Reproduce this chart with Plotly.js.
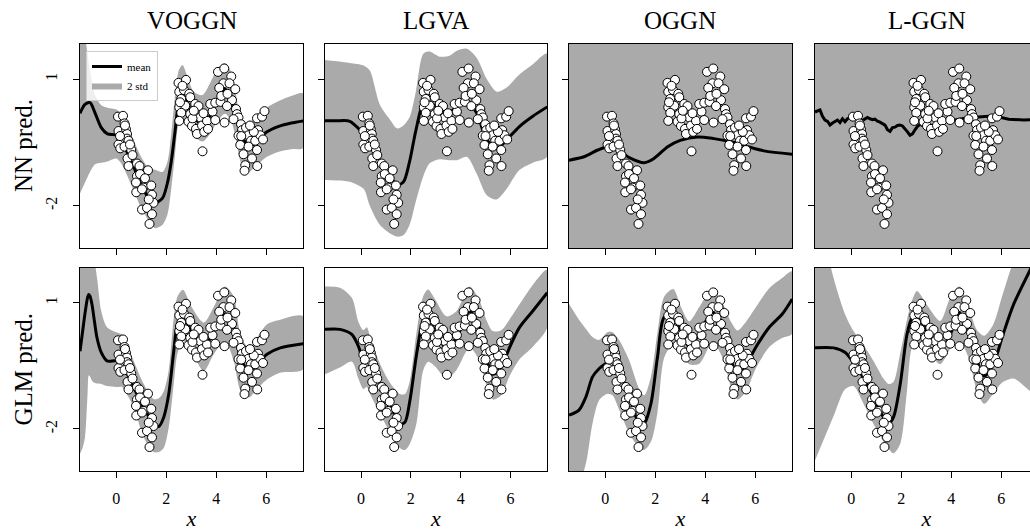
<!DOCTYPE html>
<html>
<head>
<meta charset="utf-8">
<script src="https://cdn.plot.ly/plotly-3.0.1.min.js"></script>
<style>
html,body{margin:0;padding:0;overflow:hidden;background:#fff;}
#chart{width:1045px;height:531px;}
</style>
</head>
<body>
<div id="chart"></div>
<script>
// ---------------- data ----------------
const columnTitles = ["VOGGN", "LGVA", "OGGN", "L-GGN"];
const rowTitles = ["NN pred.", "GLM pred."];
const xTickVals = [0, 2, 4, 6];
const yTickVals = [1, -2];
const yTickText = ["1", "-2"];

const dataX = [0.07,0.27,0.33,0.09,0.39,0.43,0.20,0.43,0.49,0.09,0.16,0.33,0.60,0.45,0.65,0.49,0.83,0.93,1.27,0.83,0.79,1.09,1.40,0.80,1.03,1.43,1.49,1.03,1.23,1.43,1.33,0.15,0.55,0.95,0.35,1.15,1.30,
  2.49,2.79,2.52,2.71,2.92,2.60,2.96,2.52,2.76,2.60,2.52,2.96,3.16,3.29,2.89,3.03,3.19,3.36,3.43,3.23,3.52,3.63,3.67,3.85,3.96,3.76,3.96,4.17,4.07,4.32,4.60,4.29,4.12,4.53,4.76,4.63,4.43,4.33,4.79,4.83,4.89,4.69,4.99,5.03,4.89,5.19,5.29,5.39,4.96,5.09,5.29,5.56,5.63,5.83,5.93,5.67,5.76,5.87,5.63,5.43,5.64,5.16,5.13,3.45,
  2.65,2.55,3.05,3.49,3.10,4.20,4.45,5.00,5.50,5.35];
const dataY = [0.11,0.13,-0.05,-0.23,-0.19,-0.30,-0.45,-0.41,-0.46,-0.55,-0.64,-0.60,-0.68,-0.88,-0.80,-1.06,-1.00,-1.06,-1.16,-1.30,-1.45,-1.57,-1.52,-1.68,-1.61,-1.74,-1.93,-2.09,-2.05,-2.20,-2.43,-0.35,-0.55,-1.25,-0.10,-1.35,-1.85,
  0.91,0.98,0.70,0.74,0.65,0.53,0.57,0.33,0.37,0.20,0.01,0.17,0.41,0.36,-0.01,-0.11,-0.18,0.09,-0.10,-0.30,-0.25,0.01,-0.18,0.23,0.03,0.41,0.44,0.46,1.17,1.25,1.06,0.90,0.79,0.90,0.76,0.50,0.36,-0.03,0.29,0.17,0.09,0.05,-0.07,-0.21,-0.34,-0.15,-0.33,-0.46,-0.56,-0.78,-0.60,-0.46,0.07,0.11,0.24,-0.21,-0.33,-0.43,-0.68,-0.88,-1.06,-1.04,-1.17,-0.71,
  0.84,0.45,0.07,0.19,0.25,0.60,0.65,-0.35,-0.25,-0.10];

// VOGGN, NN predictive
const voggnNnX     = [-1.45,-1.25,-1.05,-0.85,-0.6,-0.35,0,0.2,0.45,0.7,1.0,1.3,1.55,1.85,2.05,2.2,2.35,2.5,2.65,2.85,3.1,3.45,3.75,4.05,4.35,4.6,4.8,5.0,5.3,5.6,6.0,6.5,7.0,7.48];
const voggnNnMean  = [0.19,0.40,0.44,0.20,-0.15,-0.30,-0.32,-0.42,-0.75,-1.08,-1.5,-1.82,-1.93,-1.82,-1.45,-0.95,-0.25,0.45,0.66,0.45,0.10,-0.07,0.13,0.50,0.76,0.55,0.15,-0.30,-0.60,-0.50,-0.26,-0.12,-0.04,0.01];
const voggnNnUpper = [2.6,2.0,1.2,0.62,0.38,0.32,0.28,0.18,-0.1,-0.45,-0.85,-1.1,-1.15,-1.2,-0.95,-0.3,0.6,1.2,1.33,1.05,0.7,0.62,0.9,1.25,1.38,1.15,0.6,0.0,-0.05,0.12,0.32,0.48,0.6,0.66];
const voggnNnLower = [-1.71,-1.45,-1.2,-1.02,-0.98,-0.95,-0.88,-1.0,-1.3,-1.65,-2.05,-2.35,-2.53,-2.45,-2.2,-1.6,-0.8,-0.05,0.05,-0.1,-0.35,-0.48,-0.3,0.0,0.18,0.0,-0.45,-1.0,-1.2,-1.05,-0.85,-0.72,-0.66,-0.63];

// LGVA, NN predictive
const lgvaNnX     = [-1.45,-1.0,-0.45,0.1,0.35,0.75,1.15,1.45,1.7,1.95,2.2,2.5,2.75,3.15,3.55,3.85,4.25,4.65,5.05,5.45,5.85,6.35,6.9,7.48];
const lgvaNnMean  = [0.01,0.01,0.0,-0.29,-0.42,-0.92,-1.31,-1.5,-1.44,-0.95,-0.22,0.42,0.46,0.27,0.22,0.34,0.50,0.19,-0.44,-0.64,-0.44,-0.13,0.12,0.34];
const lgvaNnUpper = [1.45,1.42,1.38,1.32,1.2,0.4,0.05,-0.17,-0.1,0.1,0.7,1.6,1.65,1.53,1.55,1.67,1.72,1.5,1.0,0.7,0.8,1.1,1.35,1.6];
const lgvaNnLower = [-1.39,-1.40,-1.43,-1.6,-2.0,-2.45,-2.65,-2.73,-2.7,-2.45,-1.9,-1.3,-1.0,-0.9,-0.92,-0.92,-0.84,-1.25,-1.75,-1.85,-1.6,-1.16,-0.98,-0.84];

// OGGN, NN predictive (band covers the whole panel)
const oggnNnX     = [-1.45,-0.85,-0.3,0.1,0.5,1.0,1.55,1.95,2.5,3.0,3.7,4.35,5.0,5.7,6.35,7.48];
const oggnNnMean  = [-0.92,-0.84,-0.68,-0.60,-0.68,-0.87,-0.98,-0.88,-0.60,-0.45,-0.37,-0.41,-0.48,-0.60,-0.70,-0.78];
const oggnNnUpper = [4.0,4.0,4.0,4.0,4.0,4.0,4.0,4.0,4.0,4.0,4.0,4.0,4.0,4.0,4.0,4.0];
const oggnNnLower = [-6.0,-6.0,-6.0,-6.0,-6.0,-6.0,-6.0,-6.0,-6.0,-6.0,-6.0,-6.0,-6.0,-6.0,-6.0,-6.0];

// L-GGN, NN predictive (noisy mean, band covers the whole panel)
const lggnNnX    = [-1.45,-1.35,-1.25,-1.15,-1.05,-0.95,-0.85,-0.75,-0.65,-0.55,-0.45,-0.35,-0.25,-0.15,-0.05,0.05,0.15,0.25,0.32,0.38,0.45,0.55,0.65,0.75,0.85,0.95,1.05,1.15,1.25,1.35,1.45,1.55,1.65,1.75,1.85,1.95,2.05,2.15,2.25,2.35,2.45,2.55,2.65,2.75,2.85,2.95,3.05,3.15,3.3,3.45,3.6,3.75,3.9,4.05,4.2,4.4,4.6,4.8,5.0,5.25,5.5,5.75,6.0,6.3,6.6,6.9,7.2,7.47];
const lggnNnMean = [0.22,0.25,0.27,0.12,0.03,0.0,-0.09,-0.04,-0.01,0.03,-0.03,0.06,-0.01,0.06,0.09,0.08,0.11,0.05,-0.35,-0.3,0.02,0.05,0.09,0.06,0.04,0.05,0.0,-0.02,-0.06,-0.09,-0.20,-0.24,-0.15,-0.14,-0.10,-0.09,-0.11,-0.17,-0.25,-0.33,-0.30,-0.20,-0.12,-0.07,-0.10,-0.09,-0.12,-0.15,-0.08,-0.03,0.02,0.04,0.0,0.02,0.04,0.06,0.08,0.09,0.10,0.12,0.12,0.10,0.09,0.05,0.04,0.03,0.04,0.04];
const lggnNnBandX = [-1.45,7.48];
const lggnNnUpper = [3.4,3.4];
const lggnNnLower = [-4.2,-4.2];

// VOGGN, GLM predictive
const voggnGlmX     = [-1.45,-1.35,-1.25,-1.15,-1.1,-1.05,-0.97,-0.87,-0.77,-0.6,-0.37,0.0,0.23,0.45,0.7,1.1,1.5,1.7,1.9,2.1,2.3,2.45,2.67,3.0,3.5,3.9,4.35,4.7,4.97,5.3,5.63,6.03,6.56,7.48];
const voggnGlmMean  = [-0.15,0.3,0.75,1.12,1.2,1.16,0.96,0.55,0.17,-0.18,-0.38,-0.38,-0.46,-0.70,-1.01,-1.49,-1.88,-1.94,-1.72,-1.17,-0.15,0.49,0.68,0.33,-0.07,0.33,0.74,0.41,-0.30,-0.62,-0.46,-0.22,-0.07,0.03];
const voggnGlmUpper = [3.0,3.0,2.5,2.2,2.1,2.0,1.9,1.9,1.6,0.8,0.42,0.30,0.25,0.0,-0.38,-0.93,-1.29,-1.27,-1.1,-0.6,0.64,1.15,1.31,0.92,0.53,0.9,1.39,1.15,0.25,-0.07,0.17,0.49,0.6,0.68];
const voggnGlmLower = [-2.59,-2.45,-2.2,-1.2,-0.72,-0.75,-0.85,-0.9,-0.92,-0.93,-0.98,-1.0,-1.0,-1.2,-1.49,-2.2,-2.55,-2.55,-2.45,-1.96,-0.93,-0.2,0.09,-0.15,-0.62,-0.22,0.09,-0.38,-1.09,-1.25,-1.05,-0.82,-0.66,-0.58];

// LGVA, GLM predictive
const lgvaGlmX     = [-1.45,-0.85,-0.37,-0.11,0.09,0.23,0.36,0.76,1.16,1.56,1.76,1.96,2.23,2.49,2.69,2.96,3.43,3.83,4.36,4.76,5.03,5.29,5.63,5.96,6.36,6.89,7.48];
const lgvaGlmMean  = [0.37,0.37,0.25,-0.03,-0.34,-0.22,-0.38,-0.93,-1.41,-1.88,-1.84,-1.33,-0.22,0.57,0.68,0.33,-0.07,0.17,0.80,0.41,-0.30,-0.70,-0.54,-0.07,0.41,0.80,1.24];
const lgvaGlmUpper = [1.39,1.36,1.12,0.55,0.35,0.42,0.2,-0.45,-0.9,-1.17,-1.17,-0.85,0.3,1.15,1.32,1.1,0.68,0.8,1.39,1.05,0.6,0.33,0.35,0.6,0.96,1.42,1.79];
const lgvaGlmLower = [-0.70,-0.54,-0.40,-0.8,-1.05,-1.0,-1.17,-1.64,-2.08,-2.45,-2.5,-2.35,-1.85,-0.62,-0.4,-0.5,-0.8,-0.6,-0.07,-0.38,-0.95,-1.3,-1.2,-0.75,-0.35,-0.05,0.41];

// OGGN, GLM predictive
const oggnGlmX     = [-1.45,-1.05,-0.77,-0.51,-0.24,0.09,0.29,0.56,0.96,1.36,1.56,1.83,2.09,2.36,2.72,3.03,3.36,3.76,4.29,4.69,5.03,5.29,5.63,6.03,6.56,7.09,7.48];
const oggnGlmMean  = [-1.67,-1.55,-1.23,-0.76,-0.56,-0.41,-0.29,-0.60,-1.23,-1.87,-1.87,-1.39,-0.29,0.66,0.70,0.34,-0.05,0.27,0.78,0.34,-0.37,-0.68,-0.48,-0.05,0.42,0.74,1.09];
const oggnGlmUpper = [0.98,0.6,0.38,0.19,0.12,0.3,0.3,0.11,-0.37,-1.05,-1.2,-0.75,0.3,1.15,1.33,0.9,0.56,0.9,1.33,1.0,0.55,0.34,0.55,0.9,1.35,1.6,1.75];
const oggnGlmLower = [-3.5,-3.3,-2.81,-1.87,-1.31,-1.16,-1.2,-1.55,-2.1,-2.45,-2.5,-2.3,-1.6,-0.3,0.03,-0.2,-0.46,-0.45,0.05,-0.3,-1.0,-1.3,-1.1,-0.55,-0.05,0.17,0.27];

// L-GGN, GLM predictive
const lggnGlmX     = [-1.45,-0.71,-0.24,0.09,0.49,0.89,1.29,1.49,1.69,1.96,2.23,2.43,2.63,3.03,3.56,3.96,4.33,4.69,5.03,5.32,5.69,6.03,6.49,7.16,7.48];
const lggnGlmMean  = [-0.07,-0.07,-0.18,-0.42,-0.78,-1.25,-1.72,-1.88,-1.72,-0.93,0.25,0.64,0.68,0.33,-0.14,0.25,0.76,0.33,-0.38,-0.74,-0.46,0.17,0.96,1.79,2.2];
const lggnGlmUpper = [3.5,1.6,0.72,0.33,0.0,-0.38,-0.8,-0.93,-0.88,-0.2,0.6,1.05,1.28,0.95,0.57,1.12,1.39,0.9,0.35,0.22,0.5,1.15,2.0,3.0,3.4];
const lggnGlmLower = [-2.75,-1.7,-1.05,-0.98,-1.4,-1.88,-2.3,-2.47,-2.58,-2.35,-1.09,-0.07,0.05,-0.12,-0.46,-0.1,0.08,-0.3,-1.1,-1.4,-1.15,-0.9,-0.8,-1.1,-1.2];

// ---------------- figure ----------------
const panels = [
  {x: voggnNnX, mean: voggnNnMean, bx: voggnNnX, up: voggnNnUpper, lo: voggnNnLower, shape: "spline"},
  {x: lgvaNnX, mean: lgvaNnMean, bx: lgvaNnX, up: lgvaNnUpper, lo: lgvaNnLower, shape: "spline"},
  {x: oggnNnX, mean: oggnNnMean, bx: oggnNnX, up: oggnNnUpper, lo: oggnNnLower, shape: "spline"},
  {x: lggnNnX, mean: lggnNnMean, bx: lggnNnBandX, up: lggnNnUpper, lo: lggnNnLower, shape: "linear"},
  {x: voggnGlmX, mean: voggnGlmMean, bx: voggnGlmX, up: voggnGlmUpper, lo: voggnGlmLower, shape: "spline"},
  {x: lgvaGlmX, mean: lgvaGlmMean, bx: lgvaGlmX, up: lgvaGlmUpper, lo: lgvaGlmLower, shape: "spline"},
  {x: oggnGlmX, mean: oggnGlmMean, bx: oggnGlmX, up: oggnGlmUpper, lo: oggnGlmLower, shape: "spline"},
  {x: lggnGlmX, mean: lggnGlmMean, bx: lggnGlmX, up: lggnGlmUpper, lo: lggnGlmLower, shape: "spline"}
];

const W = 1045, H = 531;
const colPx = [[80, 303], [325, 547], [569, 792], [815, 1038]];
const rowPx = [[44, 248], [268, 471]];
const serif = "Liberation Serif, Times New Roman, serif";
const BAND = "#aaaaaa";

const traces = [];
const layout = {
  width: W, height: H,
  margin: {l: 0, r: 0, t: 0, b: 0},
  paper_bgcolor: "#fff", plot_bgcolor: "#fff",
  showlegend: true,
  legend: {
    x: 86 / W, y: 1 - 51 / H, xanchor: "left", yanchor: "top",
    bgcolor: "rgba(255,255,255,0.8)", bordercolor: "#cccccc", borderwidth: 1,
    font: {family: serif, size: 11, color: "#000"},
    tracegroupgap: 0, itemwidth: 30
  },
  annotations: [],
  font: {family: serif, color: "#000"}
};

panels.forEach((p, i) => {
  const r = Math.floor(i / 4), c = i % 4;
  const n = i + 1;
  const xa = "x" + (n === 1 ? "" : n), ya = "y" + (n === 1 ? "" : n);
  const first = i === 0;
  // band
  traces.push({
    type: "scatter", mode: "lines", xaxis: xa, yaxis: ya,
    x: p.bx.concat(p.bx.slice().reverse()),
    y: p.up.concat(p.lo.slice().reverse()),
    fill: "toself", fillcolor: BAND,
    line: {width: 0, color: BAND, shape: p.shape === "linear" ? "linear" : "spline", smoothing: 0.8},
    name: "2 std", showlegend: first, legendrank: 2, hoverinfo: "skip"
  });
  // mean
  traces.push({
    type: "scatter", mode: "lines", xaxis: xa, yaxis: ya,
    x: p.x, y: p.mean,
    line: {color: "#000", width: 3, shape: p.shape, smoothing: 0.8},
    name: "mean", showlegend: first, legendrank: 1
  });
  // data
  traces.push({
    type: "scatter", mode: "markers", xaxis: xa, yaxis: ya,
    x: dataX, y: dataY,
    marker: {size: 9, color: "#fff", line: {color: "#000", width: 1}},
    showlegend: false, cliponaxis: true
  });

  const axCommon = {
    showline: true, mirror: true, linecolor: "#000", linewidth: 1.2,
    ticks: "outside", ticklen: 6, tickwidth: 1, tickcolor: "#000",
    showgrid: false, zeroline: false,
    tickfont: {family: serif, size: 16, color: "#000"}
  };
  layout["xaxis" + (n === 1 ? "" : n)] = Object.assign({}, axCommon, {
    domain: [colPx[c][0] / W, colPx[c][1] / W],
    anchor: ya, range: [-1.45, 7.47],
    tickvals: xTickVals, showticklabels: r === 1,
    ticklabelstandoff: 7,
    title: r === 1 ? {text: "<i>x</i>", font: {family: serif, size: 22, color: "#000"}, standoff: 4} : {text: ""}
  });
  layout["yaxis" + (n === 1 ? "" : n)] = Object.assign({}, axCommon, {
    domain: [1 - rowPx[r][1] / H, 1 - rowPx[r][0] / H],
    anchor: xa, range: [-3.0, 1.83],
    tickvals: yTickVals, ticktext: yTickText, tickangle: -90,
    showticklabels: c === 0, ticklabelstandoff: 9
  });
});

columnTitles.forEach((t, c) => {
  layout.annotations.push({
    text: t, xref: "paper", yref: "paper",
    x: (colPx[c][0] + colPx[c][1]) / 2 / W, y: 1 - 21 / H,
    xanchor: "center", yanchor: "middle", showarrow: false,
    font: {family: serif, size: 25, color: "#000"}
  });
});
rowTitles.forEach((t, r) => {
  layout.annotations.push({
    text: t, xref: "paper", yref: "paper",
    x: 23 / W, y: 1 - (rowPx[r][0] + rowPx[r][1]) / 2 / H,
    xanchor: "center", yanchor: "middle", showarrow: false, textangle: -90,
    font: {family: serif, size: 25, color: "#000"}
  });
});

Plotly.newPlot("chart", traces, layout, {staticPlot: true, displayModeBar: false});
</script>
</body>
</html>
